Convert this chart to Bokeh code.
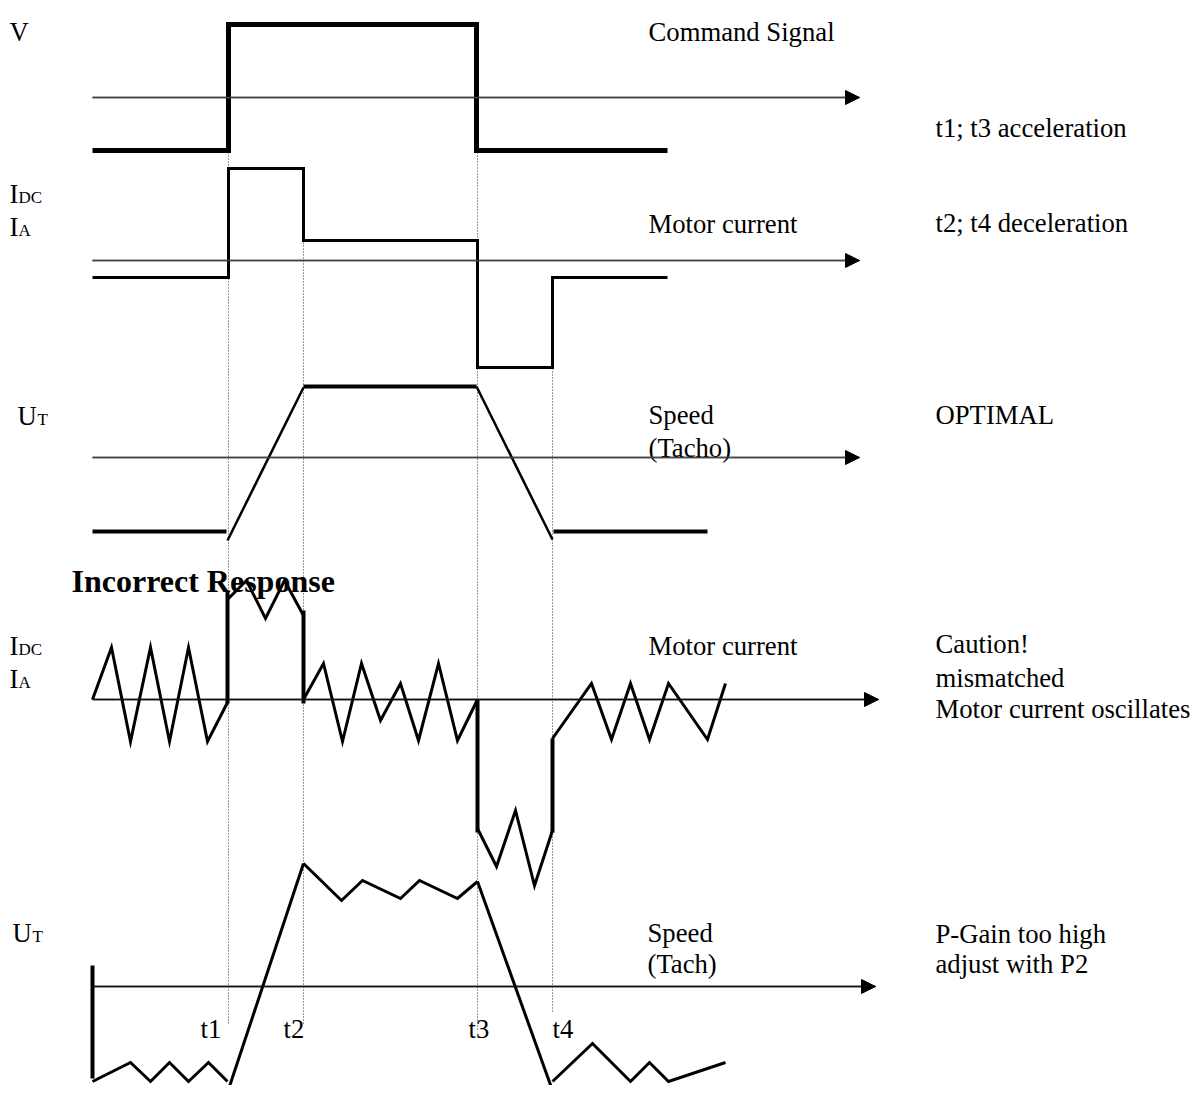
from bokeh.plotting import figure
from bokeh.models import ColumnDataSource, Arrow, NormalHead, Range1d
from bokeh.core.properties import value
from bokeh.embed import file_html
from bokeh.resources import INLINE

# ---------------- data (diagram units: px of the timing chart) ----------------
# time markers
t_names = ["t1", "t2", "t3", "t4"]
t_x = [228, 303, 477, 552]
t_dot_top = [152, 242, 152, 368]
t_dot_bottom = [1024, 1025, 1031, 1012]
t_label_x = [200, 283, 468, 552]
t_label_y = [1028, 1028, 1028, 1028]

# time axes (arrows)
axis_y = [97, 260, 457, 699, 986]
axis_x0 = [92, 92, 92, 92, 92]
axis_x1 = [859, 859, 859, 878, 875]
axis_col = ["#444444", "#444444", "#444444", "#111111", "#111111"]

# command signal
cmd_x = [92, 228, 228, 476, 476, 667]
cmd_y = [150, 150, 24, 24, 150, 150]

# optimal motor current
cur_x = [92, 228, 228, 303, 303, 477, 477, 552, 552, 667]
cur_y = [277, 277, 168, 168, 240, 240, 367, 367, 277, 277]

# optimal speed
spd_flat_x = [[92, 226], [303, 476], [553, 707]]
spd_flat_y = [[531, 531], [386, 386], [531, 531]]
spd_ramp_x = [[227, 303], [476, 552]]
spd_ramp_y = [[540, 387], [386, 539]]

# incorrect motor current: zigzag pieces and step edges
bad_cur_zig_x = [
    [92, 111, 130, 150, 169, 188, 207, 227],
    [227, 246, 265, 284, 303],
    [303, 323, 342, 361, 380, 400, 418, 438, 457, 477],
    [477, 496, 515, 534, 552],
    [552, 591, 611, 630, 649, 668, 707, 725],
]
bad_cur_zig_y = [
    [699, 647, 741, 647, 741, 647, 741, 702],
    [599, 580, 618, 580, 615],
    [699, 663, 741, 663, 720, 683, 740, 663, 740, 699],
    [828, 866, 810, 885, 830],
    [738, 683, 739, 683, 739, 683, 739, 683],
]
bad_cur_edge_x = [[227, 227], [303, 303], [477, 477], [552, 552]]
bad_cur_edge_y = [[703, 590], [610, 703], [699, 832], [832, 738]]

# incorrect speed
bad_spd_zig_x = [
    [92, 130, 150, 169, 188, 208, 227],
    [303, 341, 362, 400, 419, 457, 477],
    [552, 592, 630, 649, 668, 725],
]
bad_spd_zig_y = [
    [1081, 1062, 1081, 1062, 1081, 1062, 1081],
    [863, 900, 880, 898, 880, 898, 881],
    [1081, 1043, 1081, 1062, 1081, 1062],
]
bad_spd_ramp_x = [[227, 303], [477, 552]]
bad_spd_ramp_y = [[1092, 863], [881, 1090]]
bad_spd_edge_x = [92, 92]
bad_spd_edge_y = [965, 1078]

# texts
main_txt = ["V", "Command Signal", "t1; t3 acceleration", "I", "I", "Motor current",
            "t2; t4 deceleration", "U", "Speed", "(Tacho)", "OPTIMAL",
            "I", "I", "Motor current", "Caution!", "mismatched", "Motor current oscillates",
            "U", "Speed", "(Tach)", "P-Gain too high", "adjust with P2"]
main_x = [9, 648, 935, 9, 9, 648, 935, 17, 648, 648, 935,
          9, 9, 648, 935, 935, 935, 12, 647, 647, 935, 935]
main_y = [31, 31, 127, 193, 226, 223, 222, 415, 414, 447, 414,
          645, 678, 645, 643, 677, 708, 932, 932, 963, 933, 963]

sub_txt = ["DC", "A", "T", "DC", "A", "T"]
sub_x = [18, 18, 37, 18, 18, 32]
sub_y = [197, 230, 419, 649, 682, 936]

title_txt = ["Incorrect Response"]
title_x = [71]
title_y = [580]

# ---------------- figure ----------------
W, H = 1190, 1085
p = figure(width=W, height=H, output_backend="svg", toolbar_location=None,
           x_range=Range1d(0, W), y_range=Range1d(H, 0),
           x_axis_type=None, y_axis_type=None, min_border=0,
           background_fill_color="white", border_fill_color="white")
p.outline_line_color = None
p.grid.visible = False

# dotted time markers
p.segment(x0=t_x, y0=t_dot_top, x1=t_x, y1=t_dot_bottom,
          line_color="#333333", line_width=1, line_dash="1 2")

# axes with arrowheads
axis_src = ColumnDataSource(dict(x0=axis_x0, x1=axis_x1, y=axis_y, c=axis_col))
p.segment(x0="x0", y0="y", x1="x1", y1="y", line_color="c", line_width=1.6, source=axis_src)
p.add_layout(Arrow(end=NormalHead(size=14, fill_color="black", line_color="black", line_width=1),
                   x_start="x0", y_start="y", x_end="x1", y_end="y",
                   line_width=1.6, line_color="c", source=axis_src))

# command signal
p.line(cmd_x, cmd_y, line_color="black", line_width=5, line_join="miter")

# optimal current
p.line(cur_x, cur_y, line_color="black", line_width=3, line_join="miter")

# optimal speed
p.multi_line(spd_flat_x, spd_flat_y, line_color="black", line_width=4)
p.multi_line(spd_ramp_x, spd_ramp_y, line_color="black", line_width=2.5)

# incorrect current
p.multi_line(bad_cur_zig_x, bad_cur_zig_y, line_color="black", line_width=3, line_join="miter")
p.multi_line(bad_cur_edge_x, bad_cur_edge_y, line_color="black", line_width=4)

# incorrect speed
p.multi_line(bad_spd_zig_x, bad_spd_zig_y, line_color="black", line_width=3, line_join="miter")
p.multi_line(bad_spd_ramp_x, bad_spd_ramp_y, line_color="black", line_width=3)
p.line(bad_spd_edge_x, bad_spd_edge_y, line_color="black", line_width=4)

# texts
serif = value("Liberation Serif")
p.text(x=main_x, y=main_y, text=main_txt, text_font=serif, text_font_size="26.7px",
       text_color="black", text_baseline="alphabetic", text_align="left")
p.text(x=sub_x, y=sub_y, text=sub_txt, text_font=serif, text_font_size="17px",
       text_color="black", text_baseline="alphabetic", text_align="left")
p.text(x=t_label_x, y=t_label_y, text=t_names, text_font=serif, text_font_size="26.7px",
       text_color="black", text_baseline="alphabetic", text_align="left")
p.text(x=title_x, y=title_y, text=title_txt, text_font=serif, text_font_size="32px",
       text_font_style="bold", text_color="black", text_baseline="alphabetic", text_align="left")

open("out.html", "w").write(file_html(p, INLINE))
